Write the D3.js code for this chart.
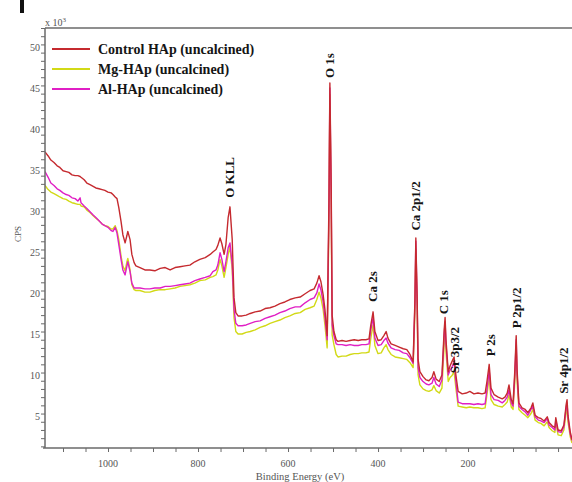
<!DOCTYPE html>
<html><head><meta charset="utf-8">
<script src="https://cdn.jsdelivr.net/npm/d3@7"></script>
<style>html,body{margin:0;padding:0;background:#fff;}svg{display:block;}</style>
</head><body>
<script>
// Binding energy (eV)
const energy = [1140,1133,1127,1120,1113,1107,1100,1093,1087,1080,1073,1067,1062,1060,1053,1047,1040,1033,1027,1020,1013,1007,1000,993,989,984,980,976,971,967,962,958,956,951,947,942,938,929,918,907,896,884,873,862,851,840,829,818,807,796,784,773,767,760,756,751,747,742,738,733,729,724,720,716,711,702,693,684,673,662,651,640,629,618,607,596,584,573,562,551,542,536,531,527,522,518,513,509,507,504,502,498,493,489,480,471,462,453,444,436,427,420,416,411,407,400,393,387,382,378,371,362,353,344,336,329,322,318,316,313,311,307,300,293,287,280,276,271,264,258,253,251,249,244,240,236,231,227,222,213,204,196,187,178,169,162,158,153,149,142,133,124,118,113,109,104,100,96,93,91,87,80,73,67,60,56,51,44,38,31,24,20,13,7,5,0,-7,-13,-18,-20,-22,-27,-31];
// CPS (x10^3)
const controlHAp = [37.9,37.4,36.9,36.6,36.2,36.0,35.6,35.5,35.4,35.1,35.0,35.0,34.9,34.8,34.5,34.1,33.9,33.7,33.5,33.4,33.3,33.2,33.0,32.9,32.7,32.4,32.2,31.1,29.4,27.8,26.8,27.7,28.2,27.2,25.4,24.4,24.0,23.8,23.5,23.5,23.4,23.7,23.8,23.5,23.8,23.9,24.0,24.1,24.5,24.8,25.0,25.4,25.7,26.0,26.5,27.4,26.7,25.4,26.6,29.9,31.2,27.2,20.1,18.3,17.9,17.9,18.0,18.2,18.4,18.5,18.8,18.9,19.1,19.4,19.6,19.9,20.1,20.2,20.6,21.0,21.2,21.9,22.8,22.1,20.5,18.7,15.5,32.1,46.3,33.3,18.0,16.0,15.0,14.8,14.9,14.8,14.9,15.0,14.9,15.0,15.0,15.1,16.8,18.4,16.0,14.9,15.0,15.5,16.0,15.2,14.5,14.3,14.1,13.9,13.8,13.2,12.3,19.9,27.4,19.9,12.6,11.1,10.5,10.1,10.0,10.4,11.1,10.2,9.9,10.7,16.2,17.7,15.0,11.1,11.8,12.3,12.9,10.7,8.7,8.4,8.5,8.7,8.4,8.5,8.4,8.5,9.9,12.0,9.1,8.3,8.0,7.8,8.0,8.5,9.5,7.7,7.2,11.3,15.5,11.3,7.3,6.7,6.5,6.1,6.7,7.3,5.8,5.5,5.4,5.1,5.6,4.9,4.5,4.3,5.5,4.0,3.9,4.6,7.1,7.7,5.8,3.8,2.8];
const mgHAp = [33.8,33.3,33.0,32.8,32.6,32.4,32.2,32.1,31.9,31.7,31.6,31.5,31.5,31.3,31.2,30.8,30.5,30.1,29.8,29.5,29.1,28.9,28.8,28.5,28.5,28.9,28.3,27.2,25.2,24.0,23.4,24.5,24.9,23.5,21.7,21.1,21.0,21.0,20.8,20.8,21.0,21.1,21.1,21.2,21.3,21.5,21.6,21.7,21.9,22.2,22.3,22.6,22.7,22.9,23.5,24.8,24.0,22.6,23.8,25.4,26.3,23.5,17.7,16.0,15.7,15.7,15.9,16.0,16.2,16.5,16.7,17.0,17.2,17.4,17.7,17.9,18.2,18.3,18.7,18.9,19.1,19.9,20.8,20.1,18.7,16.8,14.0,29.6,44.9,30.8,15.6,14.4,13.2,12.9,13.0,13.0,13.2,13.3,13.3,13.4,13.4,13.5,15.2,16.8,14.3,13.3,13.4,14.0,14.4,13.8,13.2,12.9,12.8,12.7,12.6,12.2,11.6,18.4,26.0,18.4,10.7,9.5,9.0,8.8,8.7,8.9,9.4,8.8,8.5,9.1,14.4,16.0,13.5,9.9,10.4,10.6,11.1,9.1,6.9,6.8,6.7,6.8,6.7,6.7,6.6,6.7,8.3,10.4,7.7,7.1,6.9,6.8,7.1,7.4,8.3,6.8,6.5,9.9,14.0,9.9,6.5,6.1,5.8,5.5,6.0,6.5,5.2,4.9,4.8,4.5,5.0,4.3,3.9,3.7,4.9,3.4,3.3,4.0,6.2,6.7,5.0,3.2,2.4];
const alHAp = [35.5,34.8,34.1,33.8,33.4,33.2,32.9,32.7,32.6,32.3,32.2,31.9,32.3,31.7,31.3,31.0,30.6,30.2,29.9,29.5,29.1,28.9,28.7,28.3,28.2,28.7,28.0,26.6,24.8,23.5,22.9,24.0,24.5,23.3,21.9,21.3,21.3,21.3,21.2,21.2,21.3,21.3,21.5,21.5,21.6,21.7,21.8,21.9,22.2,22.4,22.6,22.8,23.3,23.5,24.1,25.6,24.8,23.3,24.5,26.2,26.8,24.1,18.7,17.0,16.7,16.7,16.8,17.0,17.2,17.3,17.6,17.8,18.0,18.3,18.5,18.8,19.0,19.0,19.5,19.9,20.1,20.7,21.8,21.1,19.6,17.7,15.0,30.8,45.7,32.1,16.8,15.5,14.5,14.4,14.4,14.3,14.4,14.3,14.3,14.4,14.4,14.5,16.2,17.7,15.2,14.3,14.4,14.9,15.2,14.6,14.0,13.8,13.7,13.4,13.3,12.8,12.1,19.3,27.0,19.3,11.6,10.4,9.9,9.6,9.5,9.7,10.4,9.6,9.3,10.1,15.6,17.2,14.4,10.7,11.3,11.6,12.3,9.9,7.4,7.2,7.2,7.2,7.1,7.2,7.1,7.2,8.9,11.3,8.3,7.7,7.6,7.3,7.6,8.0,8.9,7.3,6.9,10.7,15.0,10.7,6.9,6.5,6.2,5.8,6.5,6.9,5.6,5.2,5.1,4.9,5.4,4.6,4.3,4.0,5.2,3.8,3.7,4.4,6.7,7.3,5.5,3.5,2.7];

const seriesNames = ["Control HAp (uncalcined)", "Mg-HAp (uncalcined)", "Al-HAp (uncalcined)"];
const seriesColors = ["#c52a2f", "#d2d916", "#e01fc4"];
const xTickLabels = [1000, 800, 600, 400, 200];
const yTickLabels = [5, 10, 15, 20, 25, 30, 35, 40, 45, 50];
const peakLabels = ["O KLL", "O 1s", "Ca 2s", "Ca 2p1/2", "C 1s", "Sr 3p3/2", "P 2s", "P 2p1/2", "Sr 4p1/2"];
const peakEnergy = [731, 507, 413, 316, 255, 229, 151, 93, -17];
const peakLabelBase = [32.3, 46.9, 19.6, 28.3, 18.1, 10.9, 13.0, 16.4, 8.4];

const W = 572, H = 482;
const M = {left: 45, top: 28, right: 572, bottom: 448};
const svg = d3.select("body").append("svg").attr("width", W).attr("height", H);

const x = d3.scaleLinear().domain([1140, -31]).range([M.left, M.right]);
const y = d3.scaleLinear().domain([1.8, 53.0]).range([M.bottom, M.top]);

const serif = "'Liberation Serif','Times New Roman',serif";
const axisColor = "#6a6a6a";
const labelColor = "#555";

// clip
svg.append("clipPath").attr("id", "clip").append("rect")
  .attr("x", M.left).attr("y", M.top).attr("width", M.right - M.left).attr("height", M.bottom - M.top);

// lines
const allSeries = [mgHAp, alHAp, controlHAp];
const allColors = [seriesColors[1], seriesColors[2], seriesColors[0]];
const line = d3.line().x((d, i) => x(energy[i])).y(d => y(d));
const g = svg.append("g").attr("clip-path", "url(#clip)");
allSeries.forEach((s, k) => {
  g.append("path").datum(s).attr("d", line).attr("fill", "none")
    .attr("stroke", allColors[k]).attr("stroke-width", 1.4).attr("stroke-linejoin", "round");
});

// Y axis
const yAxis = d3.axisLeft(y).tickValues(d3.range(2, 54, 1)).tickSize(4).tickFormat("");
const ya = svg.append("g").attr("transform", `translate(${M.left},0)`).call(yAxis);
ya.select(".domain").attr("stroke", axisColor).attr("stroke-width", 1.5).attr("d", `M-0,${M.bottom}V${M.top}`);
ya.selectAll(".tick line").attr("stroke", axisColor).attr("stroke-width", 1);
svg.append("g").selectAll("text").data(yTickLabels).join("text")
  .attr("x", M.left - 5).attr("y", d => y(d) - 2)
  .attr("text-anchor", "end").attr("font-family", serif).attr("font-size", 10)
  .attr("fill", labelColor).text(d => d);

// top border
svg.append("line").attr("x1", M.left).attr("x2", M.right).attr("y1", M.top).attr("y2", M.top)
  .attr("stroke", axisColor).attr("stroke-width", 1.5);

// X axis
const xAxis = d3.axisBottom(x).tickValues(d3.range(1100, -1, -50)).tickSize(4).tickFormat("");
const xa = svg.append("g").attr("transform", `translate(0,${M.bottom})`).call(xAxis);
xa.select(".domain").attr("stroke", axisColor).attr("stroke-width", 1.5).attr("d", `M${M.left - 2},0H${M.right}`);
xa.selectAll(".tick line").attr("stroke", axisColor).attr("stroke-width", 1);
svg.append("g").selectAll("text").data(xTickLabels).join("text")
  .attr("x", d => x(d)).attr("y", 467)
  .attr("text-anchor", "middle").attr("font-family", serif).attr("font-size", 10)
  .attr("fill", labelColor).text(d => d);

// axis titles
svg.append("text").attr("x", 300).attr("y", 480).attr("text-anchor", "middle")
  .attr("font-family", serif).attr("font-size", 10.5).attr("fill", labelColor).text("Binding Energy (eV)");
svg.append("text").attr("transform", "translate(21,234) rotate(-90)").attr("text-anchor", "middle")
  .attr("font-family", serif).attr("font-size", 9).attr("fill", labelColor).text("CPS");
const mult = svg.append("text").attr("x", M.left).attr("y", 26)
  .attr("font-family", serif).attr("font-size", 10).attr("fill", labelColor);
mult.append("tspan").text("x 10");
mult.append("tspan").attr("dy", -4).attr("font-size", 7).text("3");

// panel fragment at top-left
svg.append("rect").attr("x", 20).attr("y", 0).attr("width", 4).attr("height", 13).attr("fill", "#111");

// legend
const legY = [49, 69, 89];
const leg = svg.append("g");
seriesNames.forEach((n, i) => {
  leg.append("line").attr("x1", 52).attr("x2", 90).attr("y1", legY[i]).attr("y2", legY[i])
    .attr("stroke", seriesColors[i]).attr("stroke-width", 2.2);
  leg.append("text").attr("x", 98).attr("y", legY[i] + 5)
    .attr("font-family", serif).attr("font-weight", "bold").attr("font-size", 14)
    .attr("fill", "#151515").text(n);
});

// peak labels
svg.append("g").selectAll("text").data(peakLabels).join("text")
  .attr("transform", (d, i) => `translate(${Math.min(x(peakEnergy[i]) + 4.5, 568)},${y(peakLabelBase[i])}) rotate(-90)`)
  .attr("font-family", serif).attr("font-weight", "bold").attr("font-size", 13)
  .attr("fill", "#151515").text(d => d);
</script>
</body></html>
